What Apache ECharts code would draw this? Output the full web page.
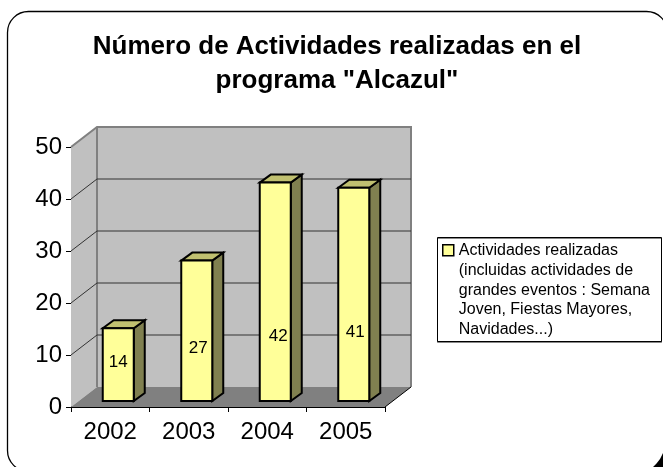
<!DOCTYPE html>
<html><head><meta charset="utf-8">
<style>html,body{margin:0;padding:0;background:#fff}#c{width:663px;height:467px}</style>
<script src="https://cdn.jsdelivr.net/npm/echarts@6/dist/echarts.min.js"></script>
</head><body><div id="c"></div>
<script>
const categories = ['2002', '2003', '2004', '2005'];
const actividades = [14, 27, 42, 41];
const gridValues = [10, 20, 30, 40];
const titleText = 'Número de Actividades realizadas en el\nprograma "Alcazul"';
const seriesName = 'Actividades realizadas\n(incluidas actividades de\ngrandes eventos : Semana\nJoven, Fiestas Mayores,\nNavidades...)';
const labelNudge = [[0, -2], [1.5, 18], [3, 45], [1.5, 38]];

const FF = '"Liberation Sans", Arial, sans-serif';
const DX = 26, DY = -20;          // wall depth
const BAR_DX = 8, BAR_DY = -6;    // bars stand in the middle of the floor
const BAR_W = 31, BD = 11, BDY = -8;

const chart = echarts.init(document.getElementById('c'), null, {renderer: 'canvas'});

function poly(points, fill, stroke, lw, z2) {
  return {type: 'polygon', shape: {points}, z2: z2 || 0,
    style: {fill: fill || 'none', stroke: stroke || 'none', lineWidth: lw || 0, lineJoin: 'miter'}};
}

chart.setOption({
  animation: false,
  backgroundColor: '#fff',
  title: {
    text: titleText, left: 332, top: 25, textAlign: 'center',
    textStyle: {fontFamily: FF, fontWeight: 'bold', fontSize: 26, lineHeight: 34, color: '#000'}
  },
  grid: {left: 71, right: 278, top: 147, bottom: 60, containLabel: false},
  legend: {
    left: 442, top: 240, orient: 'vertical', padding: 0,
    itemWidth: 11, itemHeight: 99, itemGap: 0,
    data: [{name: seriesName, icon: 'path://M0 0M0 4H11V15H0ZM0 99',
      itemStyle: {color: '#ffff99', borderColor: '#000', borderWidth: 1.5}}],
    textStyle: {fontFamily: FF, fontSize: 16, lineHeight: 19.8, color: '#000'}
  },
  xAxis: {
    type: 'category', data: categories, boundaryGap: true,
    axisLine: {show: true, lineStyle: {color: '#000', width: 1}},
    axisTick: {show: true, length: 5, alignWithLabel: false, lineStyle: {color: '#000'}},
    axisLabel: {fontFamily: FF, fontSize: 24, color: '#000', margin: 13, interval: 0},
    splitLine: {show: false}
  },
  yAxis: {
    type: 'value', min: 0, max: 50, interval: 10,
    axisLine: {show: true, lineStyle: {color: '#000', width: 1}},
    axisTick: {show: true, length: 5, lineStyle: {color: '#000'}},
    axisLabel: {fontFamily: FF, fontSize: 24, color: '#000', margin: 9, padding: [3, 0, 0, 0]},
    splitLine: {show: false}
  },
  graphic: {elements: [
    {type: 'rect', silent: true, z: -10, shape: {x: 7.5, y: 11.5, width: 660, height: 460, r: 21},
      style: {fill: '#fff', stroke: '#000', lineWidth: 1.3}},
    {type: 'polygon', silent: true, z: -9,
      shape: {points: [[653, 467], [656.5, 463.5], [660, 459], [663, 453], [663, 467]]}, style: {fill: '#000'}},
    {type: 'rect', silent: true, z: -9, shape: {x: 437.5, y: 237.5, width: 224, height: 104},
      style: {fill: '#fff', stroke: '#000', lineWidth: 1, shadowBlur: 0, shadowColor: '#888', shadowOffsetY: 1}}
  ]},
  series: [
    { // walls and floor
      type: 'custom', name: 'walls', silent: true, z: 1, clip: false,
      coordinateSystem: 'cartesian2d',
      data: [[0, 0]],
      encode: {x: 0, y: 1},
      renderItem: (params) => {
        const g = params.coordSys;
        const L = g.x, R = g.x + g.width, T = g.y, B = g.y + g.height;
        return {type: 'group', children: [
          poly([[L, T], [L + DX, T + DY], [L + DX, B + DY], [L, B]], '#c0c0c0'),
          poly([[L + DX, T + DY], [R + DX, T + DY], [R + DX, B + DY], [L + DX, B + DY]], '#c0c0c0'),
          poly([[L, B], [L + DX, B + DY], [R + DX, B + DY], [R, B]], '#808080'),
          {type: 'polyline', shape: {points: [[L, T], [L + DX, T + DY], [R + DX, T + DY], [R + DX, B + DY]]},
            style: {fill: 'none', stroke: '#808080', lineWidth: 2}},
          {type: 'line', shape: {x1: L + DX, y1: T + DY, x2: L + DX, y2: B + DY},
            style: {stroke: '#808080', lineWidth: 2}},
          {type: 'line', shape: {x1: R, y1: B, x2: R + DX, y2: B + DY},
            style: {stroke: '#000', lineWidth: 1}}
        ]};
      }
    },
    { // grid lines running over the side and back walls
      type: 'custom', name: 'gridlines', silent: true, z: 2, clip: false,
      coordinateSystem: 'cartesian2d',
      data: gridValues.map(v => [0, v]),
      encode: {y: 1},
      renderItem: (params, api) => {
        const g = params.coordSys;
        const y = api.coord([0, api.value(1)])[1];
        return {type: 'polyline',
          shape: {points: [[g.x, y], [g.x + DX, y + DY], [g.x + g.width + DX, y + DY]]},
          style: {fill: 'none', stroke: '#333', lineWidth: 1}};
      }
    },
    { // 3D bars
      type: 'custom', name: seriesName, z: 3, clip: false,
      coordinateSystem: 'cartesian2d',
      data: actividades.map((v, i) => [i, v]),
      encode: {x: 0, y: 1},
      itemStyle: {color: '#ffff99'},
      renderItem: (params, api) => {
        const i = api.value(0), v = api.value(1);
        const top = api.coord([i, v]), base = api.coord([i, 0]);
        const cx = top[0] + BAR_DX;
        const l = cx - BAR_W / 2, r = cx + BAR_W / 2;
        const t = top[1] + BAR_DY, b = base[1] + BAR_DY;
        const nudge = labelNudge[params.dataIndex];
        return {type: 'group', children: [
          poly([[r, t], [r + BD, t + BDY], [r + BD, b + BDY], [r, b]], '#808050', '#000', 2),
          poly([[l, t], [l + BD, t + BDY], [r + BD, t + BDY], [r, t]], '#c0c070', '#000', 2),
          poly([[l, t], [r, t], [r, b], [l, b]], '#ffff99', '#000', 2),
          {type: 'text', z2: 5, style: {
            text: String(v), x: cx + nudge[0], y: (t + b) / 2 + nudge[1],
            align: 'center', verticalAlign: 'middle',
            fontFamily: FF, fontSize: 17, fill: '#000'}}
        ]};
      }
    }
  ]
});
</script></body></html>
